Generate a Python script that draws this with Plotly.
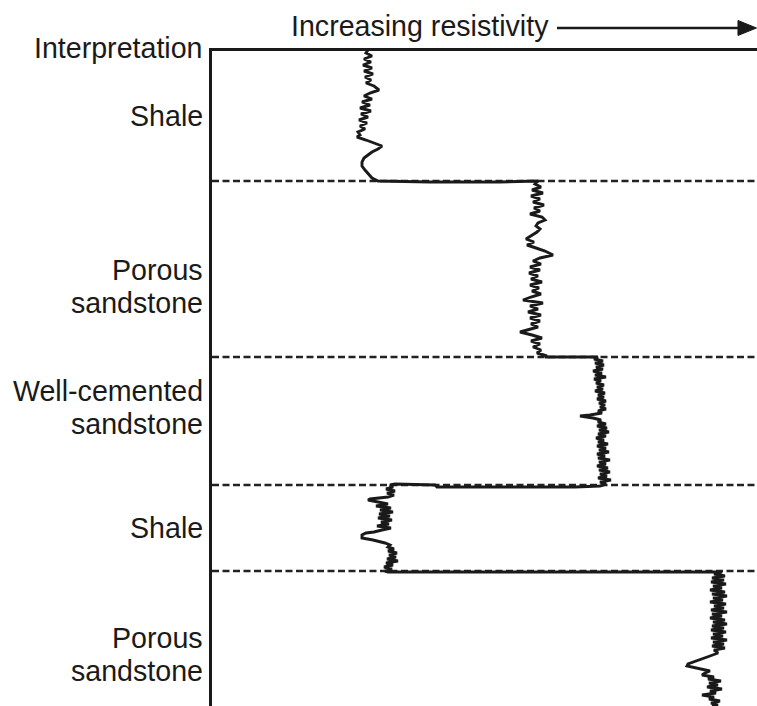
import plotly.graph_objects as go

# Resistivity log (x: relative resistivity, y: depth, both in image-scale units)
shale1_depth = [50, 53, 56, 59, 62, 65, 68, 71, 74, 77, 80, 83, 86, 90, 93, 96, 99, 102, 105, 108, 111, 114,
                117, 120, 123, 126, 129, 132, 135, 137, 140, 143, 146, 149, 152, 155, 158, 162, 166, 170,
                174, 178, 181]
shale1_res = [368, 366, 372, 364, 371, 363, 372, 364, 373, 365, 371, 366, 374, 379, 370, 364, 372, 362, 370,
              360, 371, 361, 368, 359, 367, 360, 365, 358, 360, 357, 366, 375, 382, 378, 372, 368, 364, 362,
              362, 365, 369, 372, 378]

porous1_depth = [182, 182, 181, 184, 187, 190, 193, 196, 199, 202, 205, 208, 211, 214, 217, 220, 223, 226, 229,
                 232, 236, 239, 242, 245, 248, 251, 255, 258, 261, 264, 267, 270, 273, 276, 279, 282, 285,
                 288, 291, 294, 297, 300, 303, 306, 309, 312, 315, 318, 321, 324, 327, 330, 332, 335, 338,
                 341, 344, 347, 350, 353, 356, 357]
porous1_res = [430, 500, 538, 535, 541, 532, 543, 531, 540, 533, 544, 534, 540, 530, 542, 545, 538, 536, 540,
               537, 530, 526, 534, 527, 536, 545, 553, 540, 533, 541, 530, 540, 529, 538, 531, 542, 530, 539,
               532, 541, 531, 523, 543, 530, 538, 528, 541, 530, 540, 531, 538, 526, 520, 532, 542, 531, 540,
               533, 541, 537, 547, 545]

cemented_depth = [357, 357, 359, 361, 363, 365, 367, 369, 371, 373, 375, 377, 379, 381, 383, 385, 387, 389, 391,
                  393, 395, 397, 399, 401, 403, 405, 407, 409, 411, 413, 415, 416, 418, 420, 422, 424, 426,
                  428, 430, 432, 434, 436, 438, 440, 442, 444, 446, 448, 450, 452, 454, 456, 458, 460, 462,
                  464, 466, 468, 470, 472, 474, 476, 478, 480, 482, 484, 485]
cemented_res = [570, 598, 594, 603, 595, 604, 596, 603, 593, 602, 595, 606, 594, 601, 596, 604, 597, 603, 595,
                605, 598, 604, 597, 606, 599, 605, 600, 606, 598, 602, 590, 580, 593, 601, 598, 606, 597, 607,
                599, 609, 598, 606, 596, 604, 598, 608, 597, 606, 599, 609, 597, 605, 598, 610, 599, 606, 597,
                608, 599, 610, 600, 607, 598, 611, 600, 606, 603]

shale2_depth = [486, 487, 487, 485, 484, 485, 487, 489, 491, 493, 495, 497, 499, 500, 502, 504, 506, 508, 510,
                512, 514, 516, 518, 520, 522, 524, 526, 528, 530, 532, 533, 535, 538, 540, 543, 545, 547, 549,
                551, 553, 555, 557, 559, 561, 563, 565, 567, 569, 571, 572]
shale2_res = [600, 575, 437, 435, 395, 390, 393, 386, 395, 387, 394, 388, 370, 368, 378, 388, 376, 391, 380,
              393, 379, 390, 378, 392, 381, 389, 377, 391, 382, 374, 366, 362, 362, 373, 385, 390, 388, 394,
              388, 397, 389, 396, 387, 398, 386, 393, 384, 392, 385, 388]

porous2_depth = [572, 572, 572, 574, 576, 578, 580, 582, 584, 586, 588, 590, 592, 594, 596, 598, 600, 602, 604,
                 606, 608, 610, 612, 614, 616, 618, 620, 622, 624, 626, 628, 630, 632, 634, 636, 638, 640, 642,
                 644, 646, 648, 650, 653, 656, 660, 664, 666, 669, 671, 673, 675, 677, 679, 681, 683, 685, 687,
                 689, 691, 693, 695, 697, 699, 701, 703, 705, 706]
porous2_res = [520, 640, 722, 714, 725, 712, 724, 711, 726, 713, 722, 710, 725, 712, 727, 713, 723, 710, 726,
               714, 724, 711, 727, 712, 722, 710, 725, 713, 727, 712, 724, 711, 726, 713, 723, 711, 727, 713,
               724, 712, 725, 714, 718, 710, 700, 688, 687, 700, 710, 705, 702, 714, 708, 721, 709, 718, 707,
               722, 710, 716, 702, 714, 709, 720, 711, 718, 712]

log_depth = shale1_depth + porous1_depth + cemented_depth + shale2_depth + porous2_depth
log_res = shale1_res + porous1_res + cemented_res + shale2_res + porous2_res

boundary_depths = [181, 357, 485, 571]

label_texts = ["Shale", "Porous", "sandstone", "Well-cemented", "sandstone", "Shale", "Porous", "sandstone"]
label_depths = [116, 270, 303, 391, 424, 528, 638, 671]

header_text = "Interpretation"
axis_title = "Increasing resistivity"

INK = "#1a1a1a"
FONT = "Liberation Sans, Arial, sans-serif"
FS = 28.6
X0, X1 = 212, 757     # plot area in page pixels (left/right)
Y0, Y1 = 51, 706      # plot area in page pixels (top/bottom)

fig = go.Figure()
fig.add_trace(go.Scatter(x=log_res, y=log_depth, mode="lines",
                         line=dict(color=INK, width=2.9), hoverinfo="skip", showlegend=False))

shapes = []
for d in boundary_depths:
    shapes.append(dict(type="line", xref="x", yref="y", x0=X0, x1=X1, y0=d, y1=d,
                       line=dict(color="#222222", width=2.4, dash="7px,3.5px"), layer="below"))


def px_x(p):
    return (p - X0) / (X1 - X0)


def px_y(p):
    return (Y1 - p) / (Y1 - Y0)


# arrow next to axis title
shapes.append(dict(type="line", xref="paper", yref="paper", x0=px_x(557), x1=px_x(742),
                   y0=px_y(28), y1=px_y(28), line=dict(color=INK, width=2.5)))
shapes.append(dict(type="path", xref="paper", yref="paper",
                   path=f"M {px_x(738):.4f},{px_y(20.5):.4f} L {px_x(756.5):.4f},{px_y(28):.4f} "
                        f"L {px_x(738):.4f},{px_y(35.5):.4f} Z",
                   fillcolor=INK, line=dict(color=INK, width=1)))

annotations = [
    dict(text=header_text, xref="paper", yref="paper", x=0, y=px_y(48), xanchor="right",
         yanchor="middle", xshift=-7, showarrow=False, font=dict(family=FONT, size=FS, color=INK)),
    dict(text=axis_title, xref="paper", yref="paper", x=px_x(551), y=px_y(26), xanchor="right",
         yanchor="middle", showarrow=False, font=dict(family=FONT, size=FS, color=INK)),
]
for t, d in zip(label_texts, label_depths):
    annotations.append(dict(text=t, xref="paper", yref="y", x=0, y=d, xanchor="right", yanchor="middle",
                            xshift=-7, showarrow=False, font=dict(family=FONT, size=FS, color=INK)))

fig.update_layout(
    width=757, height=706,
    margin=dict(l=X0, r=0, t=Y0, b=0, pad=0),
    paper_bgcolor="white", plot_bgcolor="white",
    xaxis=dict(range=[X0, X1], side="top", showline=True, linecolor=INK, linewidth=3,
               showgrid=False, zeroline=False, showticklabels=False, ticks=""),
    yaxis=dict(range=[Y1, Y0], showline=True, linecolor=INK, linewidth=3,
               showgrid=False, zeroline=False, showticklabels=False, ticks=""),
    shapes=shapes, annotations=annotations, showlegend=False,
)

fig.write_html("out.html", config={"displayModeBar": False},
               post_script="document.body.style.margin='0px';document.body.style.overflow='hidden';")
